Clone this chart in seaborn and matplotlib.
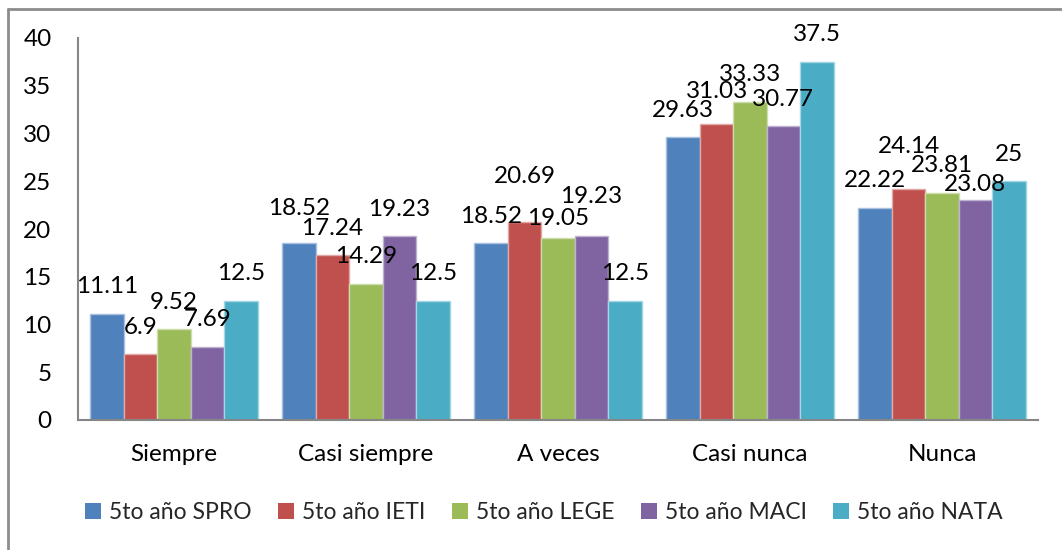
import matplotlib
matplotlib.use("Agg")
import matplotlib.pyplot as plt
import seaborn as sns
import pandas as pd
from matplotlib.lines import Line2D
from matplotlib.patches import Patch

# ---- data ----
categories = ["Siempre", "Casi siempre", "A veces", "Casi nunca", "Nunca"]
series_names = ["5to año SPRO", "5to año IETI", "5to año LEGE", "5to año MACI", "5to año NATA"]
spro = [11.11, 18.52, 18.52, 29.63, 22.22]
ieti = [6.9, 17.24, 20.69, 31.03, 24.14]
lege = [9.52, 14.29, 19.05, 33.33, 23.81]
maci = [7.69, 19.23, 19.23, 30.77, 23.08]
nata = [12.5, 12.5, 12.5, 37.5, 25]
y_ticks = [0, 5, 10, 15, 20, 25, 30, 35, 40]

colors = ["#4F81BD", "#C0504D", "#9BBB59", "#8064A2", "#4BACC6"]
edges = ["#A7C0DE", "#E0A8A6", "#CDDDAC", "#BFB1D0", "#A5D5E2"]

# label offset above bar top (pixels); manual nudges like the original
default_shift = 27
shift = {(1, 0): 35, (2, 1): 46, (2, 2): 20, (2, 3): 40, (3, 1): 32,
         (4, 1): 43, (4, 3): 15}

rows = []
for name, vals in zip(series_names, [spro, ieti, lege, maci, nata]):
    for c, v in zip(categories, vals):
        rows.append({"cat": c, "serie": name, "valor": v})
df = pd.DataFrame(rows)

sns.set_theme(style="white")
plt.rcParams["font.family"] = ["Lato", "DejaVu Sans"]

FS = 17.5

fig = plt.figure(figsize=(10.62, 5.50), dpi=100)
ax = fig.add_axes([78 / 1062, 130 / 550, 960 / 1062, 382 / 550])

sns.barplot(data=df, x="cat", y="valor", hue="serie", order=categories,
            hue_order=series_names, palette=colors, width=0.87, gap=0,
            saturation=1, ax=ax, legend=False, errorbar=None)

for si, cont in enumerate(ax.containers):
    for ci, bar in enumerate(cont):
        bar.set_edgecolor(edges[si])
        bar.set_linewidth(1.0)
        h = bar.get_height()
        ax.annotate(f"{h:g}", (bar.get_x() + bar.get_width() / 2, h),
                    xytext=(0, shift.get((ci, si), default_shift)),
                    textcoords="offset pixels", ha="center", va="center",
                    fontsize=FS, color="black")

ax.set_ylim(0, 40)
ax.set_xlim(-0.5, len(categories) - 0.5)
ax.set_yticks(y_ticks)
ax.set_xlabel("")
ax.set_ylabel("")
ax.tick_params(axis="y", length=0, pad=19, labelsize=FS, colors="black")
ax.tick_params(axis="x", length=0, pad=17, labelsize=FS, colors="black")
for s in ["top", "right"]:
    ax.spines[s].set_visible(False)
for s in ["left", "bottom"]:
    ax.spines[s].set_color("#868686")
    ax.spines[s].set_linewidth(1.5)

handles = [Patch(facecolor=c, edgecolor="none") for c in colors]
fig.legend(handles, series_names, loc="center", bbox_to_anchor=(0.512, 0.069),
           ncol=5, frameon=False, fontsize=16.5, handlelength=0.7,
           handleheight=0.7, handletextpad=0.35, columnspacing=1.15)

# chart frame (top and left edges visible)
fig.add_artist(Line2D([8 / 1062, 1.0], [1 - 8.5 / 550, 1 - 8.5 / 550],
                      transform=fig.transFigure, color="#8C8C8C", lw=2))
fig.add_artist(Line2D([8 / 1062, 8 / 1062], [0, 1 - 8.5 / 550],
                      transform=fig.transFigure, color="#8C8C8C", lw=2))

fig.savefig("out.png", dpi=100, facecolor="white")
